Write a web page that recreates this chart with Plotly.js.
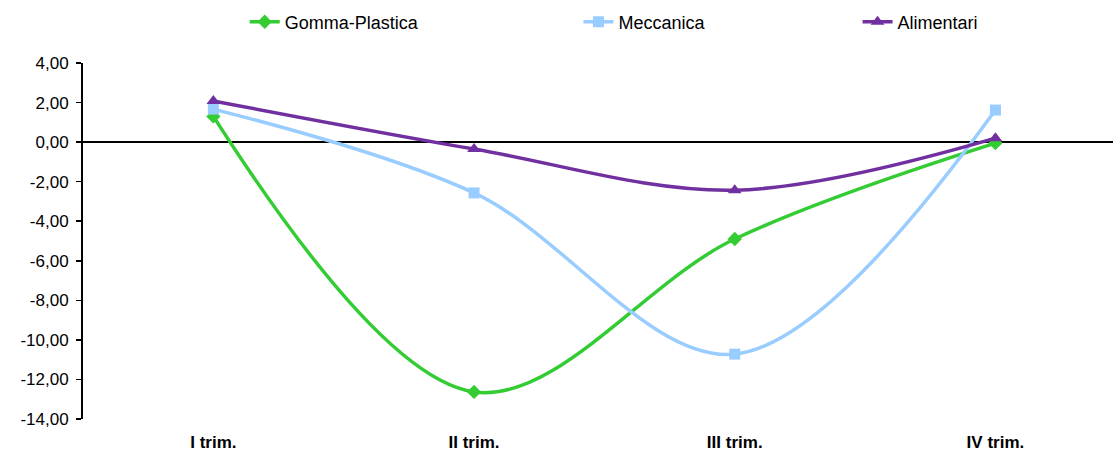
<!DOCTYPE html>
<html>
<head>
<meta charset="utf-8">
<script src="https://cdn.plot.ly/plotly-3.0.1.min.js"></script>
<style>html,body{margin:0;padding:0;background:#fff;}#chart{width:1115px;height:453px;}</style>
</head>
<body>
<div id="chart"></div>
<script>
const categories = ["I trim.", "II trim.", "III trim.", "IV trim."];
const gommaPlastica = [1.3, -12.63, -4.9, -0.05];
const meccanica = [1.67, -2.57, -10.72, 1.62];
const alimentari = [2.08, -0.35, -2.43, 0.2];
const yTickVals = [4, 2, 0, -2, -4, -6, -8, -10, -12, -14];
const yTickText = ["4,00", "2,00", "0,00", "-2,00", "-4,00", "-6,00", "-8,00", "-10,00", "-12,00", "-14,00"];

const FONT = "Liberation Sans, Arial, sans-serif";

const traces = [
  {x: categories, y: gommaPlastica, name: "Gomma-Plastica", type: "scatter", mode: "lines+markers",
   line: {color: "#33CC33", width: 3.5, shape: "spline", smoothing: 1},
   marker: {symbol: "diamond", size: 11, color: "#33CC33"}, legend: "legend"},
  {x: categories, y: meccanica, name: "Meccanica", type: "scatter", mode: "lines+markers",
   line: {color: "#99CCFF", width: 3.5, shape: "spline", smoothing: 1},
   marker: {symbol: "square", size: 11, color: "#99CCFF"}, legend: "legend2"},
  {x: categories, y: alimentari, name: "Alimentari", type: "scatter", mode: "lines+markers",
   line: {color: "#7030A0", width: 3.5, shape: "spline", smoothing: 1},
   marker: {symbol: "triangle-up", size: 12, color: "#7030A0"}, legend: "legend3"}
];

const legendBase = {orientation: "h", yanchor: "middle", xanchor: "left", y: 1.115,
  font: {family: FONT, size: 18, color: "#000"}, bgcolor: "rgba(0,0,0,0)", borderwidth: 0};

const layout = {
  width: 1115, height: 453,
  margin: {l: 83, r: 2, t: 63, b: 34},
  paper_bgcolor: "#fff", plot_bgcolor: "#fff",
  showlegend: true,
  legend: Object.assign({}, legendBase, {x: 0.157}),
  legend2: Object.assign({}, legendBase, {x: 0.481}),
  legend3: Object.assign({}, legendBase, {x: 0.752}),
  xaxis: {type: "category", range: [-0.5, 3.451], showgrid: false, zeroline: false, showline: false,
    ticks: "", ticklabelstandoff: 11,
    tickfont: {family: FONT, size: 17, color: "#000", weight: "bold"}},
  yaxis: {range: [-14, 4], showgrid: false, zeroline: true, zerolinecolor: "#000", zerolinewidth: 2,
    showline: true, linecolor: "#000", linewidth: 2, ticks: "outside", ticklen: 5, tickwidth: 1.5, tickcolor: "#000",
    tickvals: yTickVals, ticktext: yTickText, ticklabelstandoff: 4,
    tickfont: {family: FONT, size: 17, color: "#000"}}
};

Plotly.newPlot("chart", traces, layout, {displayModeBar: false, staticPlot: true});
</script>
</body>
</html>
